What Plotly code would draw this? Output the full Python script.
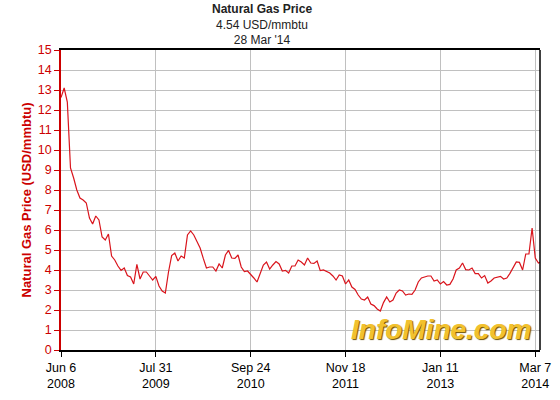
import pandas as pd
import plotly.graph_objects as go

# biweekly Henry Hub natural gas price (USD/mmbtu)
start_date = "2008-06-06"
last_date = "2014-03-28"
prices = [
    12.62, 13.1, 12.4, 9.1, 8.6, 8.0, 7.6, 7.5, 7.35, 6.6,
    6.3, 6.7, 6.5, 5.65, 5.5, 5.8, 4.7, 4.5, 4.2, 3.98,
    4.1, 3.72, 3.65, 3.3, 4.28, 3.55, 3.9, 3.9, 3.7, 3.5,
    3.68, 3.2, 2.95, 2.85, 3.9, 4.72, 4.85, 4.45, 4.7, 4.6,
    5.75, 5.95, 5.75, 5.45, 5.1, 4.58, 4.1, 4.15, 4.15, 3.95,
    4.3, 4.1, 4.75, 4.98, 4.6, 4.58, 4.75, 4.15, 3.92, 3.95,
    3.8, 3.6, 3.4, 3.85, 4.25, 4.4, 4.05, 4.25, 4.42, 4.3,
    3.95, 3.98, 3.85, 4.2, 4.2, 4.5, 4.4, 4.25, 4.6, 4.35,
    4.33, 4.45, 3.97, 4.0, 3.93, 3.85, 3.7, 3.5, 3.75, 3.7,
    3.3, 3.5, 3.15, 3.03, 2.75, 2.55, 2.5, 2.65, 2.3, 2.22,
    2.05, 1.95, 2.37, 2.65, 2.4, 2.5, 2.85, 3.0, 2.95, 2.75,
    2.8, 2.78, 3.0, 3.4, 3.6, 3.65, 3.7, 3.7, 3.45, 3.5,
    3.3, 3.42, 3.25, 3.28, 3.55, 4.0, 4.1, 4.35, 4.02, 4.0,
    4.1, 3.82, 3.82, 3.6, 3.72, 3.35, 3.45, 3.6, 3.65, 3.68,
    3.55, 3.6, 3.83, 4.1, 4.4, 4.38, 4.0, 4.8, 4.8, 6.1,
    4.6, 4.35, 4.38,
]
tick_dates = ["2008-06-06", "2009-07-31", "2010-09-24", "2011-11-18", "2013-01-11", "2014-03-07"]
tick_labels = ["Jun 6<br>2008", "Jul 31<br>2009", "Sep 24<br>2010", "Nov 18<br>2011",
               "Jan 11<br>2013", "Mar 7<br>2014"]

dates = list(pd.date_range(start_date, periods=len(prices) - 1, freq="14D")) + [pd.Timestamp(last_date)]

red = "#CC0000"
grid = "#C0C0C0"

fig = go.Figure()
fig.add_trace(go.Scatter(x=dates, y=prices, mode="lines",
                         line=dict(color="#D9141C", width=1.2), hoverinfo="x+y"))

# header text
fig.add_annotation(x=0.42, y=1, xref="paper", yref="paper", yshift=50, showarrow=False,
                   yanchor="top", align="center",
                   text="<b>Natural Gas Price</b><br>4.54 USD/mmbtu<br>28 Mar '14",
                   font=dict(family="Liberation Sans, Arial", size=12, color="#222222"))

# watermark
fig.add_annotation(x=0.985, y=0.01, xref="paper", yref="paper", showarrow=False,
                   xanchor="right", yanchor="bottom", text="InfoMine.com",
                   font=dict(family="Liberation Sans, Arial", size=28, color="#F2C12E",
                             weight="bold", style="italic", shadow="1px 1px 1px #6b5000"))

# right border
fig.add_shape(type="line", xref="paper", yref="paper", x0=1, x1=1, y0=0, y1=1,
              line=dict(color="black", width=1.5))

fig.update_layout(
    width=560, height=400,
    margin=dict(l=61, r=20, t=50, b=50),
    paper_bgcolor="white", plot_bgcolor="white",
    showlegend=False,
    font=dict(family="Liberation Sans, Arial", size=12, color="black"),
)

fig.update_xaxes(
    type="date", range=[start_date, last_date], automargin=False,
    tickvals=tick_dates, ticktext=tick_labels,
    showgrid=True, gridcolor=grid, gridwidth=1,
    showline=True, linecolor="black", linewidth=1.5, mirror=True,
    ticks="outside", ticklen=5, tickcolor="black",
    tickfont=dict(size=12.5, color="black"),
    zeroline=False,
)
fig.update_yaxes(
    range=[0, 15], dtick=1, automargin=False,
    showgrid=True, gridcolor=grid, gridwidth=1,
    showline=True, linecolor=red, linewidth=1.5,
    ticks="outside", ticklen=5, tickcolor=red,
    tickfont=dict(size=12.5, color=red),
    title=dict(text="<b>Natural Gas Price (USD/mmbtu)</b>", font=dict(size=13, color=red), standoff=3),
    zeroline=False,
)

# the page's default body margin would shift the figure by 8px
fig.write_html("out.html", config={"displayModeBar": False},
               post_script="document.body.style.margin = '0';")
